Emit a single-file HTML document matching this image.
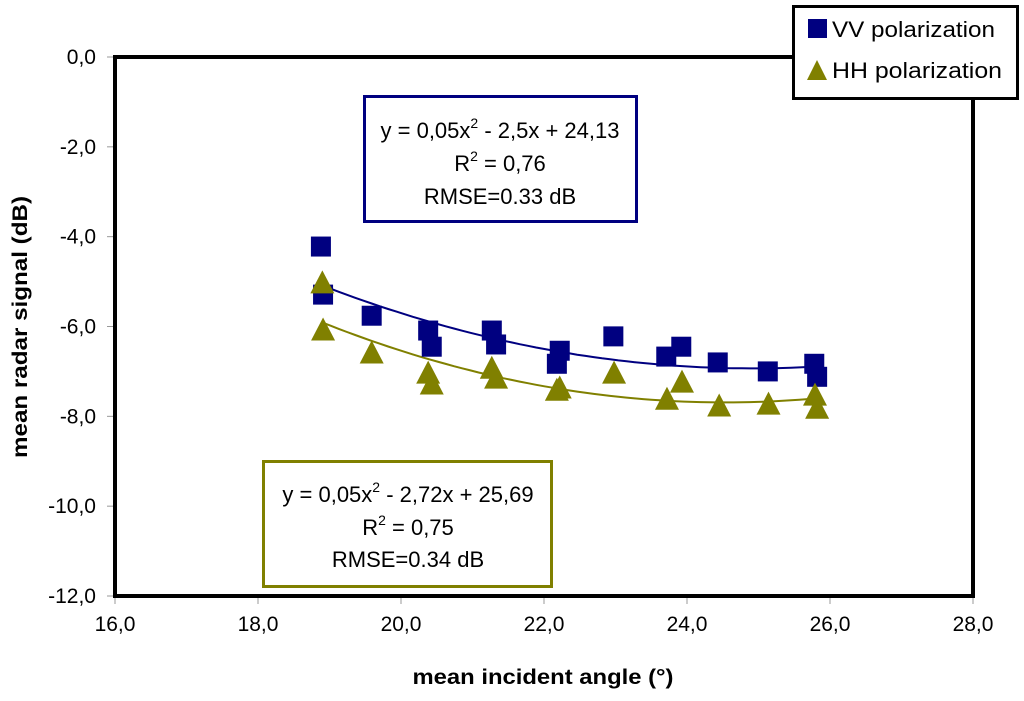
<!DOCTYPE html>
<html><head><meta charset="utf-8"><style>
body{margin:0;background:#fff;}
svg text{font-family:"Liberation Sans",Arial,sans-serif;}
</style></head><body>
<svg id="c" width="1024" height="696" viewBox="0 0 1024 696">
<rect x="0" y="0" width="1024" height="696" fill="#fff"/>
<g id="axes"></g>
<g id="lines"></g>
<g id="marks"></g>
<g>
<rect x="364.5" y="96.5" width="272" height="125" fill="#fff" stroke="#000080" stroke-width="3"/>
<text x="500" y="138" font-size="22" text-anchor="middle">y = 0,05x<tspan font-size="14" dy="-10">2</tspan><tspan dy="10"> - 2,5x + 24,13</tspan></text>
<text x="500" y="171" font-size="22" text-anchor="middle">R<tspan font-size="14" dy="-10">2</tspan><tspan dy="10"> = 0,76</tspan></text>
<text x="500" y="204" font-size="22" text-anchor="middle">RMSE=0.33 dB</text>
</g>
<g>
<rect x="263.5" y="461.5" width="288" height="125" fill="#fff" stroke="#808000" stroke-width="3"/>
<text x="408" y="502" font-size="22" text-anchor="middle">y = 0,05x<tspan font-size="14" dy="-10">2</tspan><tspan dy="10"> - 2,72x + 25,69</tspan></text>
<text x="408" y="535" font-size="22" text-anchor="middle">R<tspan font-size="14" dy="-10">2</tspan><tspan dy="10"> = 0,75</tspan></text>
<text x="408" y="567" font-size="22" text-anchor="middle">RMSE=0.34 dB</text>
</g>
<g>
<rect x="793.5" y="6.5" width="224" height="92" fill="#fff" stroke="#000" stroke-width="3"/>
<rect x="808" y="19" width="19" height="19" fill="#000080"/>
<text x="832" y="37" font-size="22" textLength="163" lengthAdjust="spacingAndGlyphs">VV polarization</text>
<polygon points="817,60 807,80 827,80" fill="#808000"/>
<text x="832" y="78" font-size="22" textLength="170" lengthAdjust="spacingAndGlyphs">HH polarization</text>
</g>
<text x="543" y="684" font-size="21" font-weight="bold" text-anchor="middle" textLength="261" lengthAdjust="spacingAndGlyphs">mean incident angle (°)</text>
<text transform="translate(27,327) rotate(-90)" font-size="21" font-weight="bold" text-anchor="middle" textLength="262" lengthAdjust="spacingAndGlyphs">mean radar signal (dB)</text>
</svg>
<script>
const xTicks=[16,18,20,22,24,26,28];
const yTicks=[0,-2,-4,-6,-8,-10,-12];
const vvX=[18.88,18.91,19.59,20.38,20.43,21.27,21.33,22.18,22.22,22.97,23.71,23.92,24.43,25.13,25.78,25.82];
const vvY=[-4.22,-5.29,-5.76,-6.09,-6.45,-6.09,-6.40,-6.83,-6.54,-6.22,-6.67,-6.45,-6.80,-7.00,-6.83,-7.12];
const hhX=[18.90,18.91,19.59,20.38,20.43,21.27,21.33,22.18,22.22,22.98,23.72,23.93,24.45,25.14,25.79,25.82];
const hhY=[-5.04,-6.09,-6.60,-7.05,-7.29,-6.94,-7.16,-7.43,-7.38,-7.05,-7.63,-7.25,-7.78,-7.74,-7.54,-7.83];
const vvTrend=[0.051,-0.297,-6.5];
const hhTrend=[0.056,-0.284,-7.33];
const trendRange=[18.9,25.8];
const NS="http://www.w3.org/2000/svg";
const L=115,R=973,T=57,B=596;
const sx=v=>L+(v-16)/12*(R-L);
const sy=v=>T+(0-v)/12*(B-T);
function mk(tag,attrs,parent){const e=document.createElementNS(NS,tag);for(const k in attrs)e.setAttribute(k,attrs[k]);document.getElementById(parent).appendChild(e);return e;}
let f=mk('rect',{x:L,y:T,width:R-L,height:B-T,fill:'none',stroke:'#000','stroke-width':4},'axes');


xTicks.forEach(v=>{
 const t=mk('line',{x1:sx(v),x2:sx(v),y1:B+2,y2:B+8,stroke:'#999','stroke-width':1},'axes');
 
 
 const l=mk('text',{x:sx(v),y:B+35,'font-size':21,'text-anchor':'middle'},'axes');
 l.textContent=v.toFixed(1).replace('.',',');
 
 
});
yTicks.forEach(v=>{
 const t=mk('line',{x1:L-8,x2:L-2,y1:sy(v),y2:sy(v),stroke:'#999','stroke-width':1},'axes');
 
 
 const l=mk('text',{x:L-19,y:sy(v)+7,'font-size':21,'text-anchor':'end'},'axes');
 l.textContent=v.toFixed(1).replace('.',',');
 
 
});
function trend(c,col,name){
 let d='';
 for(let i=0;i<=60;i++){const x=trendRange[0]+(trendRange[1]-trendRange[0])*i/60;const u=x-22;const y=c[0]*u*u+c[1]*u+c[2];d+=(i?'L':'M')+sx(x).toFixed(1)+','+sy(y).toFixed(1);}
 const p=mk('path',{d:d,fill:'none',stroke:col,'stroke-width':2},'lines');
 
 
}
trend(vvTrend,'#000080','vv-trendline');
trend(hhTrend,'#808000','hh-trendline');
vvX.forEach((x,i)=>{
 const r=mk('rect',{x:sx(x)-10,y:sy(vvY[i])-10,width:20,height:20,fill:'#000080'},'marks');
 
 
});
hhX.forEach((x,i)=>{
 const cx=sx(x),cy=sy(hhY[i]);
 const p=mk('polygon',{points:`${cx},${cy-13} ${cx-12},${cy+10} ${cx+12},${cy+10}`,fill:'#808000'},'marks');
 
 
});
</script>
</body></html>
